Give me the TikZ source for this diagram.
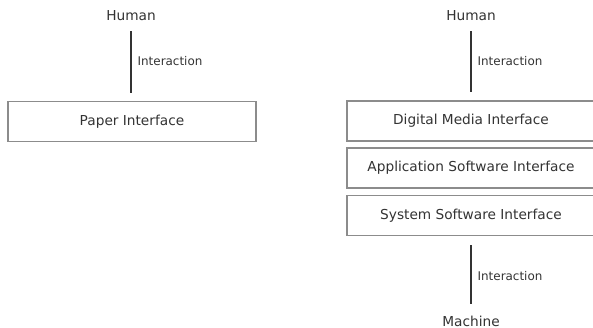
\documentclass[tikz,border=0pt]{standalone}
\usepackage{fontspec}
\setmainfont{DejaVu Sans}
\usetikzlibrary{positioning}
\definecolor{BoxGray}{rgb}{0.55,0.55,0.55}
\definecolor{InkGray}{rgb}{0.2,0.2,0.2}
\begin{document}
\begin{tikzpicture}[x=0.02cm,y=-0.02cm,
    every node/.style={text=InkGray, font=\fontsize{7.8}{9}\selectfont},
    layer/.style={draw=BoxGray, line width=0.35mm, minimum width=4.96cm, minimum height=0.8cm, inner sep=0pt},
    term/.style={inner sep=0pt},
    link/.style={draw=InkGray, line width=0.25mm, shorten <=0.2cm, shorten >=0.16cm},
    lbl/.style={right=0.12cm, inner sep=0pt, font=\fontsize{6.8}{8}\selectfont}]
    \useasboundingbox (0,0) rectangle (593,328);
    % paper
    \node[term] (humanL) at (131,16) {Human};
    \node[layer] (paper) at (132,121.5) {Paper Interface};
    \draw[link] (humanL) -- (humanL |- paper.north) node[midway, lbl] {Interaction};
    % digital
    \node[term] (humanR) at (471,16) {Human};
    \node[layer] (media) at (471,121) {Digital Media Interface};
    \node[layer] (apps) at (471,168) {Application Software Interface};
    \node[layer] (system) at (471,215.5) {System Software Interface};
    \node[term] (machine) at (471,321) {Machine};
    \draw[link] (humanR) -- (media) node[midway, lbl] {Interaction};
    \draw[link, shorten <=0.18cm, shorten >=0.22cm] (system) -- (machine) node[midway, lbl] {Interaction};
\end{tikzpicture}
\end{document}
